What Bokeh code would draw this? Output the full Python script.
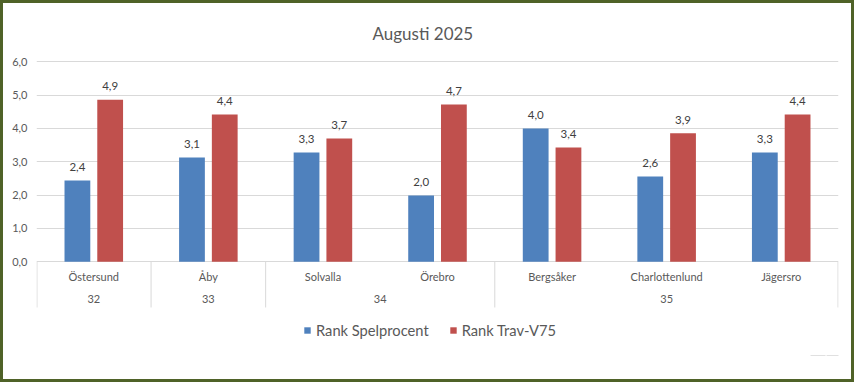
from bokeh.plotting import figure
from bokeh.models import Range1d, FixedTicker, Legend, LegendItem, CustomJSTickFormatter
from bokeh.core.properties import value
from bokeh.embed import file_html
from bokeh.resources import INLINE

# ---- data ----
categories = ["Östersund", "Åby", "Solvalla", "Örebro", "Bergsåker", "Charlottenlund", "Jägersro"]
weeks = ["32", "33", "34", "34", "35", "35", "35"]
rank_spelprocent = [2.44, 3.13, 3.28, 1.99, 4.00, 2.56, 3.28]
rank_trav_v75 = [4.86, 4.42, 3.70, 4.72, 3.43, 3.86, 4.42]
y_ticks = [0, 1, 2, 3, 4, 5, 6]
series_names = ["Rank Spelprocent", "Rank Trav-V75"]
title_text = "Augusti 2025"

BLUE = "#4f81bd"
RED = "#c0504d"
GRID = "#d9d9d9"
TXT = "#595959"
FONT = "Lato"
W, H = 854, 382

n = len(categories)
p = figure(width=W, height=H, output_backend="svg", toolbar_location=None,
           x_range=Range1d(0, n), y_range=Range1d(-3.621, 6.19),
           x_axis_location=None, min_border_left=36, min_border_right=16,
           min_border_top=55, min_border_bottom=0)
p.outline_line_color = None
p.background_fill_color = None
p.border_fill_color = None
# white chart area with a dark olive frame (drawn by the page, beneath the transparent canvas)
p.styles = {"background-color": "white", "box-shadow": "inset 0 0 0 3px #4f6228"}

# title
p.title.text = title_text
p.title.align = "left"
p.title.text_font = FONT
p.title.text_font_size = "17px"
p.title.text_font_style = "normal"
p.title.text_color = TXT
p.title.offset = 336
p.title.standoff = 24

# y axis
p.yaxis.ticker = FixedTicker(ticks=y_ticks)
p.yaxis.formatter = CustomJSTickFormatter(code="return tick.toFixed(1).replace('.', ',');")
p.yaxis.axis_line_color = None
p.yaxis.major_tick_line_color = None
p.yaxis.minor_tick_line_color = None
p.yaxis.major_tick_out = 0
p.yaxis.major_tick_in = 0
p.yaxis.major_label_text_font = FONT
p.yaxis.major_label_text_font_size = "11px"
p.yaxis.major_label_text_color = TXT
p.yaxis.major_label_standoff = 9
p.xgrid.visible = False
p.ygrid.ticker = FixedTicker(ticks=y_ticks)
p.ygrid.grid_line_color = GRID

# bars
w = 0.225
off = 0.143
xb = [i + 0.5 - off for i in range(n)]
xr = [i + 0.5 + off for i in range(n)]
r1 = p.vbar(x=xb, top=rank_spelprocent, bottom=0, width=w, fill_color=BLUE, line_color=None)
r2 = p.vbar(x=xr, top=rank_trav_v75, bottom=0, width=w, fill_color=RED, line_color=None)

def fmt(v):
    return f"{v:.1f}".replace(".", ",")

for xs, vals in ((xb, rank_spelprocent), (xr, rank_trav_v75)):
    p.text(x=xs, y=vals, text=[fmt(v) for v in vals], y_offset=-13.5,
           text_align="center", text_baseline="middle", text_font=value(FONT),
           text_font_size=value("11.5px"), text_color="#404040")

# category labels
p.text(x=[i + 0.5 for i in range(n)], y=[-0.44] * n, text=categories,
       text_align="center", text_baseline="middle", text_font=value(FONT),
       text_font_size=value("11px"), text_color=TXT)

# week groups and separators
groups = []
start = 0
for i in range(1, n + 1):
    if i == n or weeks[i] != weeks[start]:
        groups.append((weeks[start], start, i))
        start = i
p.text(x=[(a + b) / 2 for _, a, b in groups], y=[-1.13] * len(groups),
       text=[g for g, _, _ in groups], text_align="center", text_baseline="middle",
       text_font=value(FONT), text_font_size=value("11px"), text_color=TXT)
bounds = [0.004] + [b for _, _, b in groups[:-1]] + [n - 0.004]
p.segment(x0=bounds, y0=[0] * len(bounds), x1=bounds, y1=[-1.37] * len(bounds),
          line_color=GRID, line_width=1)

# faint leftover marks at bottom right of the chart area
p.segment(x0=[6.756, 6.896], y0=[-2.81, -2.81], x1=[6.887, 7.03], y1=[-2.81, -2.81],
          line_color="#e0e0e0", line_width=1)

legend = Legend(items=[LegendItem(label=series_names[0], renderers=[r1]),
                       LegendItem(label=series_names[1], renderers=[r2])],
                orientation="horizontal", location=(267, 43))
legend.glyph_width = 8
legend.glyph_height = 8
legend.label_standoff = 5
legend.spacing = 20
legend.margin = 0
legend.padding = 6
legend.border_line_color = None
legend.background_fill_alpha = 0
legend.label_text_font = FONT
legend.label_text_font_size = "14.7px"
legend.label_text_color = TXT
p.add_layout(legend)

open("out.html", "w").write(file_html(p, INLINE))
